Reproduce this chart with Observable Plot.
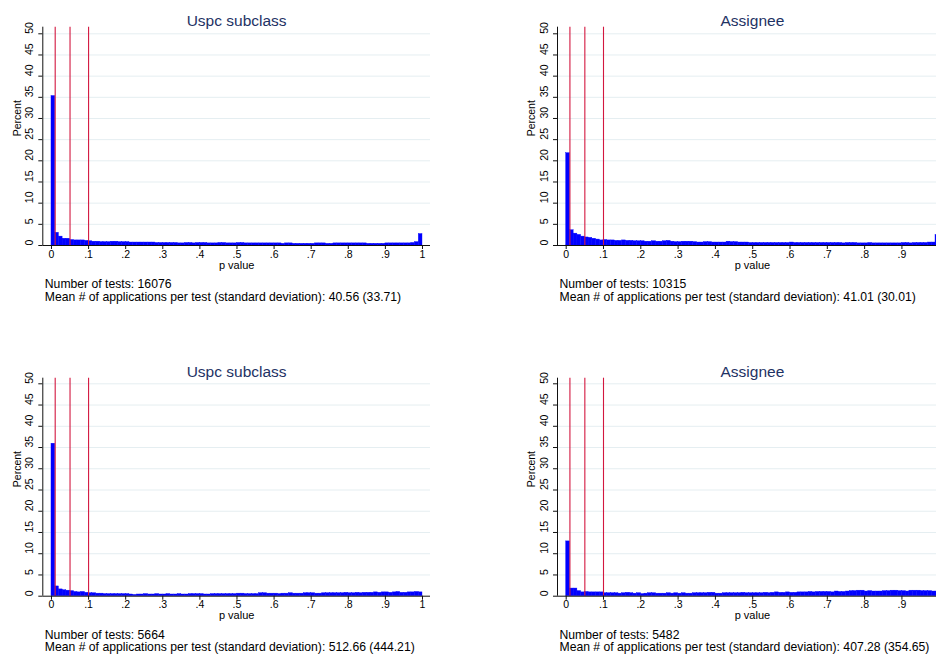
<!DOCTYPE html>
<html><head><meta charset="utf-8">
<script src="https://cdn.jsdelivr.net/npm/d3@7"></script>
<script src="https://cdn.jsdelivr.net/npm/@observablehq/plot@0.6"></script>
<style>
html,body{margin:0;padding:0;background:#fff;overflow:hidden;}
#wrap{position:relative;width:936px;height:658px;overflow:hidden;background:#fff;}
.panel{position:absolute;}
.panel svg{max-width:none !important;}
</style></head><body><div id="wrap"></div>
<script>
// ---- data ----
const binWidth = 0.01;
const refLines = [0.01, 0.05, 0.1];
const yTicks = [0, 5, 10, 15, 20, 25, 30, 35, 40, 45, 50];
const xTicks = [0, 0.1, 0.2, 0.3, 0.4, 0.5, 0.6, 0.7, 0.8, 0.9, 1];
const xTickLabels = ["0", ".1", ".2", ".3", ".4", ".5", ".6", ".7", ".8", ".9", "1"];
const titles = ["Uspc subclass", "Assignee", "Uspc subclass", "Assignee"];
const nTests = [16076, 10315, 5664, 5482];
const meanApps = ["40.56 (33.71)", "41.01 (30.01)", "512.66 (444.21)", "407.28 (354.65)"];

const uspcTop = [
  35.3, 3.0, 2.1, 1.6, 1.6, 1.3, 1.2, 1.2, 1.2, 1.1,
  1.0, 0.9, 0.9, 0.8, 0.8, 0.8, 0.9, 0.9, 0.8, 0.8,
  0.8, 0.7, 0.7, 0.7, 0.7, 0.7, 0.7, 0.7, 0.6, 0.6,
  0.6, 0.6, 0.6, 0.6, 0.5, 0.5, 0.6, 0.6, 0.5, 0.6,
  0.6, 0.6, 0.5, 0.5, 0.5, 0.6, 0.6, 0.5, 0.5, 0.5,
  0.6, 0.6, 0.5, 0.5, 0.5, 0.5, 0.5, 0.5, 0.5, 0.5,
  0.5, 0.5, 0.4, 0.5, 0.5, 0.4, 0.4, 0.4, 0.4, 0.4,
  0.4, 0.5, 0.5, 0.5, 0.4, 0.4, 0.5, 0.5, 0.5, 0.5,
  0.5, 0.5, 0.5, 0.5, 0.5, 0.4, 0.4, 0.4, 0.4, 0.4,
  0.5, 0.5, 0.5, 0.5, 0.5, 0.5, 0.5, 0.6, 0.8, 2.7
];
const assigneeTop = [
  21.8, 3.6, 2.8, 2.5, 2.1, 1.9, 1.8, 1.6, 1.4, 1.2,
  1.3, 1.2, 1.2, 1.1, 1.1, 1.2, 1.1, 1.1, 1.0, 1.0,
  1.0, 0.9, 0.9, 1.0, 0.9, 0.9, 1.0, 1.1, 0.9, 0.8,
  0.8, 0.9, 0.9, 0.9, 0.8, 0.7, 0.7, 0.8, 0.8, 0.7,
  0.7, 0.7, 0.7, 0.9, 0.8, 0.8, 0.7, 0.7, 0.7, 0.6,
  0.6, 0.6, 0.6, 0.6, 0.6, 0.6, 0.6, 0.6, 0.6, 0.6,
  0.7, 0.6, 0.6, 0.6, 0.6, 0.6, 0.6, 0.6, 0.6, 0.6,
  0.6, 0.6, 0.6, 0.6, 0.5, 0.6, 0.6, 0.6, 0.5, 0.5,
  0.5, 0.6, 0.5, 0.5, 0.5, 0.5, 0.5, 0.5, 0.5, 0.5,
  0.6, 0.6, 0.5, 0.6, 0.6, 0.6, 0.6, 0.7, 0.7, 2.5
];
const uspcBottom = [
  35.9, 2.3, 1.6, 1.4, 1.3, 1.2, 1.0, 0.9, 1.0, 0.8,
  0.7, 0.7, 0.6, 0.6, 0.5, 0.5, 0.5, 0.5, 0.5, 0.5,
  0.5, 0.4, 0.3, 0.4, 0.4, 0.5, 0.4, 0.4, 0.5, 0.4,
  0.4, 0.5, 0.4, 0.4, 0.5, 0.4, 0.4, 0.5, 0.5, 0.5,
  0.5, 0.4, 0.4, 0.5, 0.5, 0.5, 0.5, 0.5, 0.5, 0.5,
  0.6, 0.6, 0.5, 0.5, 0.5, 0.5, 0.7, 0.7, 0.6, 0.6,
  0.6, 0.5, 0.6, 0.6, 0.7, 0.6, 0.6, 0.6, 0.7, 0.7,
  0.7, 0.6, 0.6, 0.7, 0.7, 0.7, 0.7, 0.7, 0.7, 0.8,
  0.7, 0.7, 0.8, 0.7, 0.8, 0.8, 0.8, 0.9, 0.8, 0.9,
  0.9, 0.8, 0.9, 1.0, 0.8, 0.8, 0.9, 0.9, 1.0, 0.9
];
const assigneeBottom = [
  12.9, 1.8, 1.8, 1.2, 0.9, 1.0, 0.9, 0.9, 0.9, 0.9,
  0.7, 0.7, 0.7, 0.7, 0.6, 0.7, 0.8, 0.7, 0.6, 0.7,
  0.5, 0.6, 0.7, 0.7, 0.6, 0.6, 0.6, 0.7, 0.6, 0.7,
  0.6, 0.7, 0.6, 0.6, 0.7, 0.7, 0.7, 0.7, 0.8, 0.8,
  0.6, 0.6, 0.7, 0.7, 0.7, 0.7, 0.7, 0.8, 0.7, 0.7,
  0.7, 0.7, 0.7, 0.8, 0.7, 0.8, 0.9, 0.8, 0.8, 0.9,
  0.8, 0.8, 0.9, 0.9, 0.9, 1.0, 0.9, 1.0, 1.0, 1.0,
  1.0, 0.9, 1.1, 1.0, 1.0, 1.1, 1.2, 1.2, 1.3, 1.3,
  1.1, 1.2, 1.1, 1.1, 1.1, 1.2, 1.2, 1.3, 1.3, 1.2,
  1.2, 1.1, 1.3, 1.3, 1.3, 1.2, 1.2, 1.2, 1.1, 1.1
];
const series = [uspcTop, assigneeTop, uspcBottom, assigneeBottom];

// ---- layout ----
const layouts = [
  {left: 0,   top: 0,   width: 468, height: 330, mL: 42.3, mR: 38,  mT: 26.7, mB: 85,   ymax: 51.56, xd: [-0.0234, 1.0216]},
  {left: 468, top: 0,   width: 480, height: 330, mL: 89,   mR: 1.2, mT: 26.7, mB: 85,   ymax: 51.56, xd: [-0.0233, 1.0216]},
  {left: 0,   top: 340, width: 468, height: 318, mL: 42.3, mR: 38,  mT: 37.7, mB: 62.3, ymax: 51.32, xd: [-0.0234, 1.0216]},
  {left: 468, top: 340, width: 480, height: 318, mL: 89,   mR: 1.2, mT: 37.7, mB: 62.3, ymax: 51.32, xd: [-0.0233, 1.0216]}
];

const FONT = "'Liberation Sans', Arial, Helvetica, sans-serif";
const wrap = document.getElementById("wrap");

series.forEach((vals, k) => {
  const L = layouts[k];
  const bins = vals.map((v, i) => ({x1: i * binWidth, x2: (i + 1) * binWidth, pct: v}));
  const caption = `Number of tests: ${nTests[k]}\nMean # of applications per test (standard deviation): ${meanApps[k]}`;
  const chart = Plot.plot({
    width: L.width, height: L.height,
    marginLeft: L.mL, marginRight: L.mR, marginTop: L.mT, marginBottom: L.mB,
    x: {domain: L.xd},
    y: {domain: [0, L.ymax]},
    style: {fontFamily: FONT, fontSize: "11px", background: "white", overflow: "visible", color: "#000", maxWidth: "none"},
    marks: [
      Plot.gridY(yTicks.filter(d => d > 0), {stroke: "#e5eef1", strokeOpacity: 1, strokeWidth: 1}),
      Plot.rectY(bins, {x1: "x1", x2: "x2", y: "pct", fill: "#0000ff", stroke: "#0000ff", strokeWidth: 0.4, inset: 0}),
      Plot.ruleX(refLines, {stroke: "#d3173f", strokeWidth: 1.1}),
      Plot.ruleY([0], {stroke: "#111", strokeWidth: 1}),
      Plot.ruleX([L.xd[0]], {stroke: "#111", strokeWidth: 1}),
      Plot.axisY({ticks: yTicks, tickSize: 4, tickFormat: () => "", label: null, stroke: "#111"}),
      Plot.text(yTicks, {y: d => d, text: d => String(d), frameAnchor: "left", dx: -13.3, rotate: -90, fontSize: 10.5, fill: "#000"}),
      Plot.axisX({ticks: xTicks, tickSize: 4, tickFormat: () => "", label: null, stroke: "#111"}),
      Plot.text(xTicks, {x: d => d, text: (d, i) => xTickLabels[i], frameAnchor: "bottom", dy: 12, fontSize: 10.5, fill: "#000"}),
      Plot.text(["Percent"], {frameAnchor: "left", dx: -25.6, rotate: -90, fontSize: 10.5, fill: "#000"}),
      Plot.text(["p value"], {frameAnchor: "bottom", dy: 23, fontSize: 11, fill: "#000"}),
      Plot.text([titles[k]], {frameAnchor: "top", dy: -12, fontSize: 15.5, fill: "#1e3264"}),
      Plot.text([caption], {frameAnchor: "bottom-left", dx: 2, dy: 45, textAnchor: "start", lineAnchor: "middle", lineHeight: 1, fontSize: 12.2, fill: "#000"})
    ]
  });
  chart.style.maxWidth = "none";
  const div = document.createElement("div");
  div.className = "panel";
  div.style.left = L.left + "px";
  div.style.top = L.top + "px";
  div.style.width = L.width + "px";
  div.appendChild(chart);
  wrap.appendChild(div);
});
</script>
</body></html>
